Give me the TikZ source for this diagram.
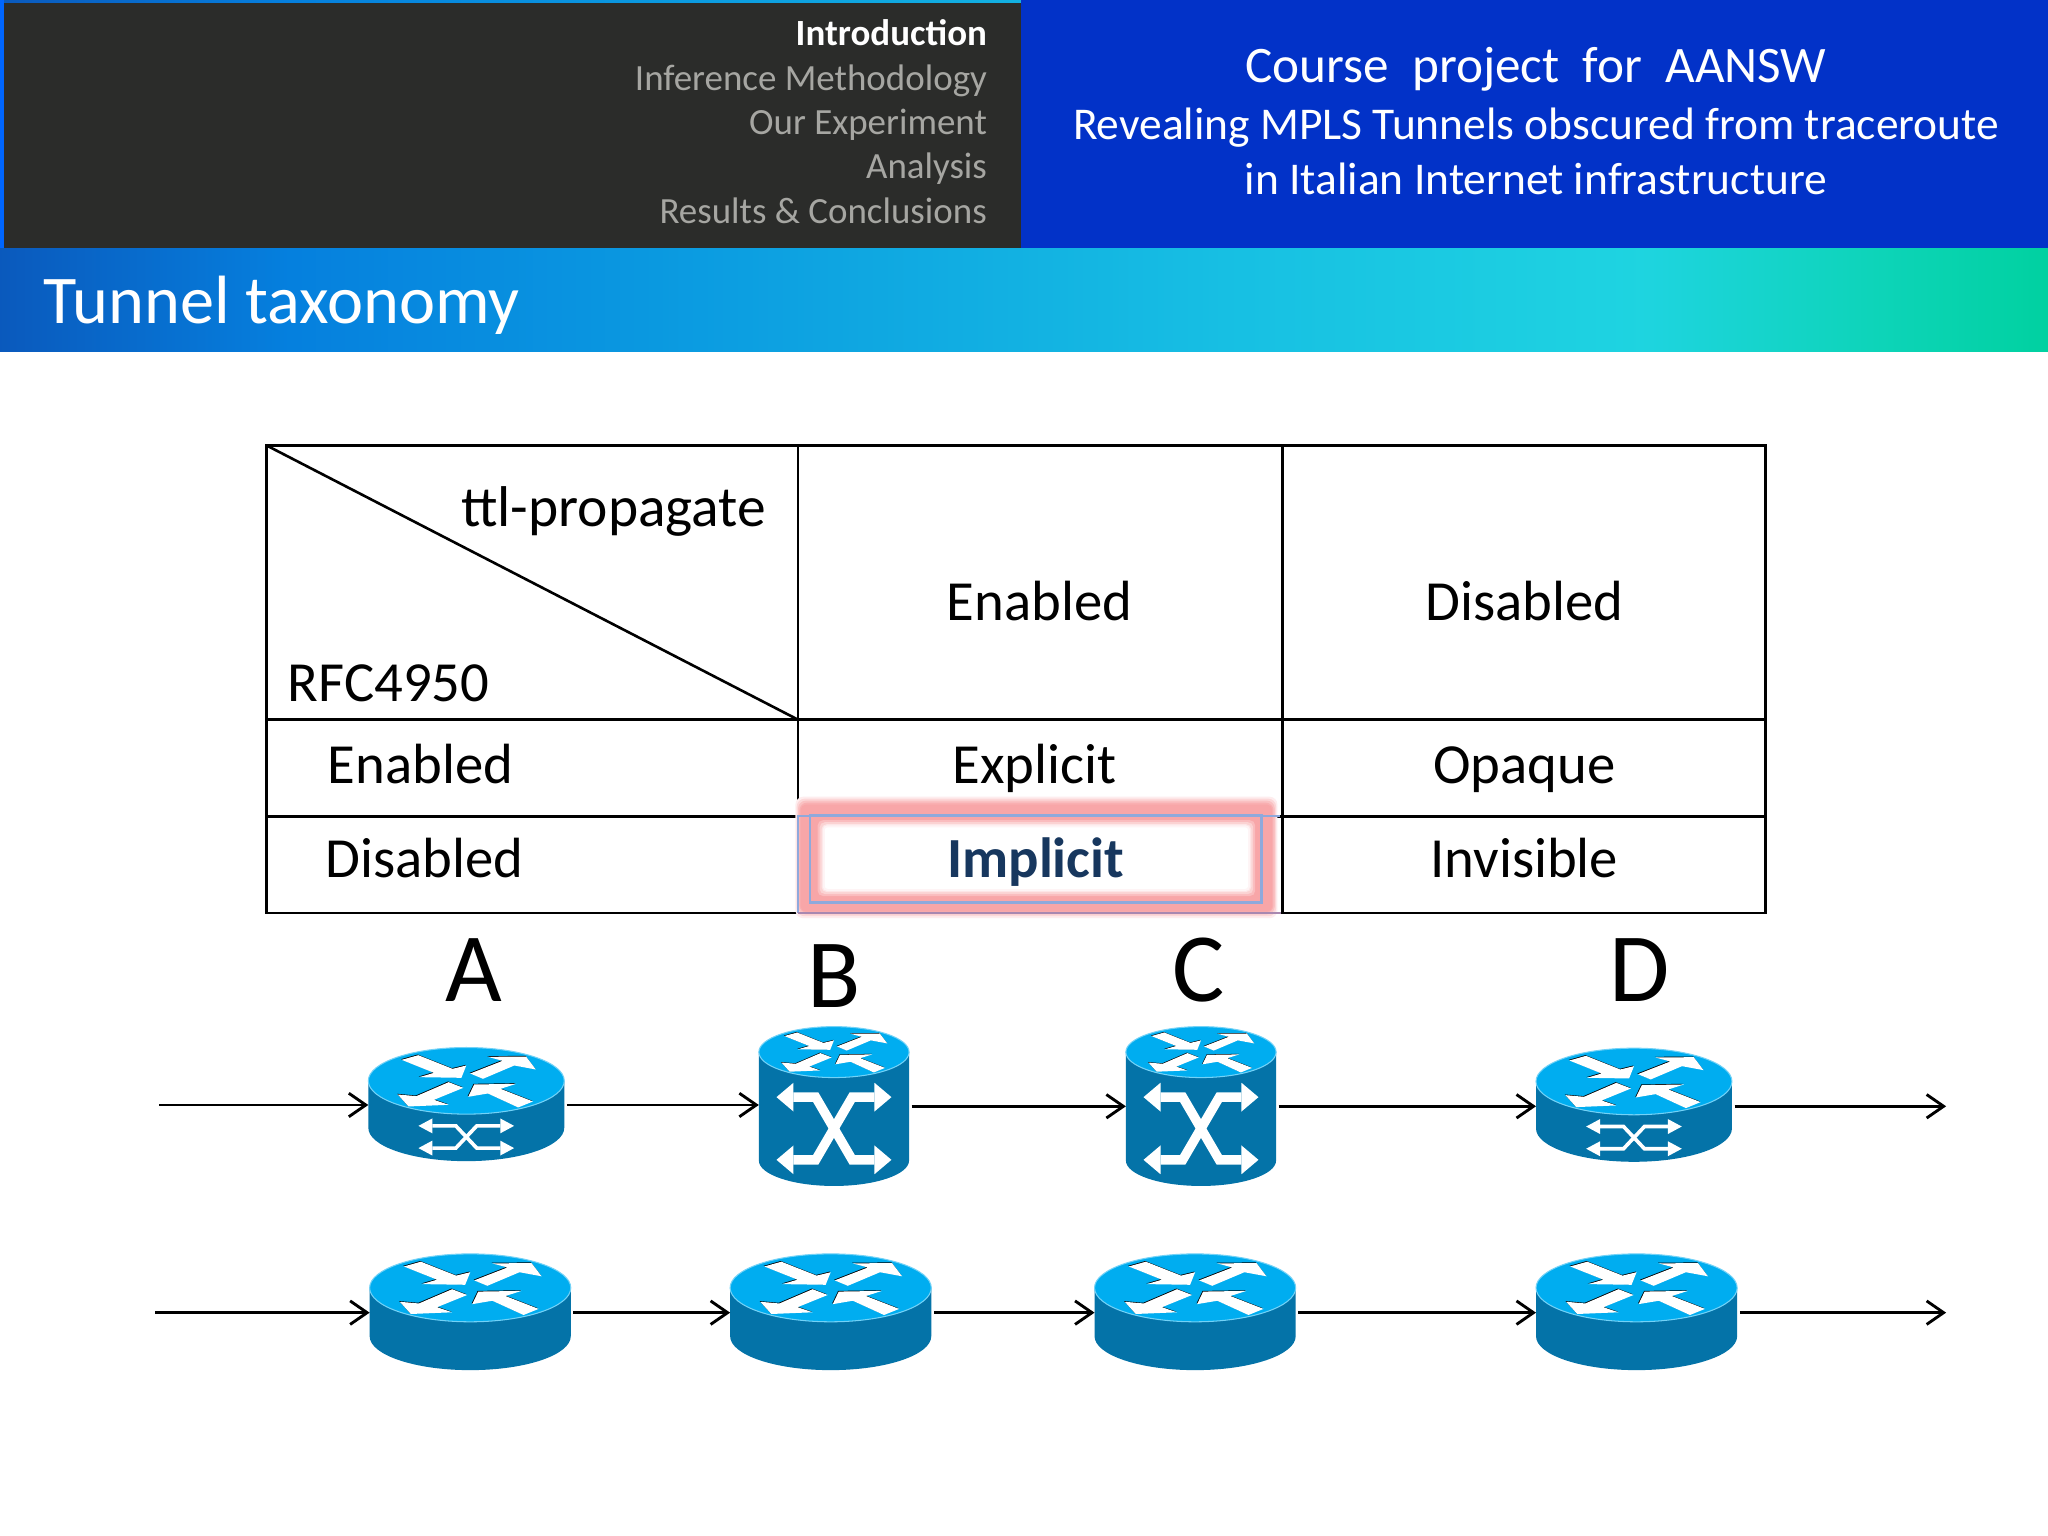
\documentclass[tikz,border=0pt]{standalone}
\usepackage{fontspec}
\setmainfont{Carlito}
\usetikzlibrary{arrows.meta}
\definecolor{rbody}{HTML}{0473A8}
\definecolor{rtop}{HTML}{00ADF0}
\definecolor{menugrey}{HTML}{A6A6A2}
\definecolor{darkbox}{HTML}{2B2C2A}
\definecolor{bluebox}{HTML}{0232C8}
\definecolor{implicitc}{HTML}{17375E}
\definecolor{glow}{HTML}{F8A6A8}
\definecolor{frameblue}{HTML}{8FA9DC}
\definecolor{framepurple}{HTML}{A888B0}
\pgfdeclarehorizontalshading{barshade}{100bp}{
 rgb(0bp)=(0.04,0.35,0.74);
 rgb(25bp)=(0.04,0.35,0.74);
 rgb(32bp)=(0.02,0.50,0.87);
 rgb(41bp)=(0.04,0.60,0.88);
 rgb(55bp)=(0.09,0.75,0.89);
 rgb(65bp)=(0.12,0.83,0.88);
 rgb(71bp)=(0.05,0.83,0.72);
 rgb(75bp)=(0.00,0.82,0.63);
 rgb(100bp)=(0.00,0.82,0.63)}
\tikzset{
 routernode/.style={inner sep=0pt,outer sep=0pt,rectangle},
 conn/.style={line width=1.1pt,shorten <=1pt,-{Straight Barb[length=6.5pt,width=9pt,line width=1.1pt]}},
 cellline/.style={line width=1.1pt,black},
 tabtext/.style={anchor=base,inner sep=0pt,font=\fontsize{21.7}{24}\selectfont,text=black},
 menutext/.style={anchor=base east,inner sep=0pt,font=\fontsize{14.15}{17}\selectfont,text=menugrey},
 titletext/.style={anchor=base,inner sep=0pt,font=\fontsize{17.4}{21}\selectfont,text=white},
 bigletter/.style={anchor=base,inner sep=0pt,font=\fontsize{37.5}{40}\selectfont,text=black},
}
\newcommand{\facearrows}[1]{%
 \fill[#1] (-0.66,0.63)--(-0.49,0.77)--(-0.14,0.36)--(0,0.46)--(-0.05,0.09)--(-0.48,0.11)--(-0.33,0.24)--cycle;
 \fill[#1] (0.04,0.22)--(0.37,0.6)--(0.22,0.72)--(0.61,0.73)--(0.71,0.34)--(0.49,0.46)--(0.17,0.06)--cycle;
 \fill[#1] (-0.70,-0.41)--(-0.51,-0.46)--(-0.18,-0.04)--(-0.03,-0.21)--(-0.33,-0.57)--(-0.18,-0.72)--(-0.59,-0.77)--cycle;
 \fill[#1] (0.02,-0.48)--(0.08,-0.11)--(0.51,-0.09)--(0.35,-0.24)--(0.68,-0.62)--(0.53,-0.80)--(0.22,-0.38)--cycle;
}
% name, cx, cy, w, h, ry
\newcommand{\rtrbase}[6]{%
 \node[routernode,minimum width=#4*0.5pt,minimum height=#5*0.5pt] (#1) at (#2,#3) {};
 \pgfmathsetmacro{\halfw}{#4/2}
 \pgfmathsetmacro{\halfh}{#5/2}
 \pgfmathsetmacro{\inner}{#5/2-#6}
 \fill[rbody] (#2-\halfw,#3-\inner) -- (#2-\halfw,#3+\inner) arc[start angle=180,end angle=0,x radius=\halfw,y radius=#6] -- (#2+\halfw,#3-\inner) -- cycle;
 \draw[rtop!55!white,line width=0.4pt,fill=rtop] (#2,#3-\inner) ellipse[x radius=\halfw,y radius=#6];
 \begin{scope}[shift={(#2,#3-\inner)},xscale=\halfw,yscale=-#6]
  \begin{scope}[shift={(-0.006,0.02)}]\facearrows{black}\end{scope}
  \facearrows{white}
 \end{scope}
}
\newcommand{\crossglyph}[8]{% cx, cy, tip, base, inner, row, headhalf, width
 \begin{scope}[shift={(#1,#2)}]
 \foreach \sx in {-1,1}{\foreach \sy in {-1,1}{
  \fill[white] (\sx*#3,\sy*#6) -- (\sx*#4,\sy*#6+#7) -- (\sx*#4,\sy*#6-#7) -- cycle;
 }}
 \draw[white,line width=#8,line join=miter] (-#4,-#6) -- (-#5,-#6) -- (#5,#6) -- (#4,#6);
 \draw[white,line width=#8,line join=miter] (-#4,#6) -- (-#5,#6) -- (#5,-#6) -- (#4,-#6);
 \end{scope}
}
\begin{document}
\begin{tikzpicture}[x=0.5pt,y=-0.5pt]
\useasboundingbox (0,0) rectangle (1568,1176);
\fill[white] (0,0) rectangle (1568,1176);
% header
\shade[shading=barshade] (0,190) rectangle (1568,269);
\shade[shading=barshade] (0,0) rectangle (1568,4);
\fill[black!0!blue!60!cyan] (0,0) rectangle (3,190);
\fill[darkbox] (3,2) rectangle (782,190);
\fill[bluebox] (782,0) rectangle (1568,190);
\node[menutext,text=white,font=\fontsize{14.15}{17}\selectfont\bfseries] (m1) at (756,35) {Introduction};
\node[menutext] (m2) at (756,69) {Inference Methodology};
\node[menutext] (m3) at (756,103) {Our Experiment};
\node[menutext] (m4) at (756,137) {Analysis};
\node[menutext] (m5) at (756,171) {Results \& Conclusions};
\node[titletext,font=\fontsize{19.6}{23}\selectfont] (t1) at (1176,63) {Course\ \ project\ \ for\ \ AANSW};
\node[titletext] (t2) at (1176,107) {Revealing MPLS Tunnels obscured from traceroute};
\node[titletext] (t3) at (1176,149) {in Italian Internet infrastructure};
\node[anchor=base west,inner sep=0pt,text=white,font=\fontsize{26.15}{30}\selectfont] (ttl) at (33,248) {Tunnel taxonomy};
% table
\draw[cellline] (204,341) rectangle (1352,699);
\draw[cellline] (204,551) -- (1352,551);
\draw[cellline] (204,625) -- (1352,625);
\draw[cellline] (611,341) -- (611,699);
\draw[cellline] (982,341) -- (982,699);
\draw[line width=1pt] (204,341) -- (611,551);
% highlight: outer glow fading out
\fill[white] (610,626) rectangle (981,698);
\fill[glow!20!white,rounded corners=3pt] (609,610) rectangle (978,703);
\fill[glow!45!white,rounded corners=3pt] (610,611.5) rectangle (977,701.5);
\fill[glow!70!white,rounded corners=3pt] (611,613) rectangle (976,700);
\fill[glow!90!white,rounded corners=3pt] (612,614.5) rectangle (975,699);
\fill[glow,rounded corners=2pt] (613,616) rectangle (974,698);
% inner edge fading to white
\fill[glow!75!white,rounded corners=2pt] (626,628) rectangle (961,686);
\fill[glow!50!white,rounded corners=2pt] (627.5,629.5) rectangle (959.5,684.5);
\fill[glow!28!white,rounded corners=2pt] (629,631) rectangle (958,683);
\fill[glow!12!white,rounded corners=1.5pt] (630,632) rectangle (957,682);
\fill[white,rounded corners=1pt] (631.5,633.5) rectangle (955.5,680.5);
% frames
\draw[frameblue,line width=0.8pt] (611,699) -- (611,625) -- (980,625);
\draw[framepurple,line width=0.9pt] (611,699) -- (981,699);
\draw[frameblue,line width=1pt] (620,624) rectangle (966,691);
\draw[cellline] (982,625) -- (982,699);
\node[tabtext,anchor=base east,font=\fontsize{22}{24}\selectfont] (c0) at (587,403) {ttl-propagate};
\node[tabtext,anchor=base west] (c1) at (220,537) {RFC4950};
\node[tabtext] (c2) at (796,475) {Enabled};
\node[tabtext] (c3) at (1167,475) {Disabled};
\node[tabtext] (c4) at (322,600) {Enabled};
\node[tabtext] (c5) at (792,600) {Explicit};
\node[tabtext] (c6) at (1167,600) {Opaque};
\node[tabtext] (c7) at (325,672) {Disabled};
\node[tabtext,text=implicitc,font=\fontsize{21.7}{24}\selectfont\bfseries] (c8) at (793,672) {Implicit};
\node[tabtext] (c9) at (1167,672) {Invisible};
\node[bigletter] (la) at (363,767) {A};
\node[bigletter] (lb) at (639,771) {B};
\node[bigletter] (lc) at (918,767) {C};
\node[bigletter] (ld) at (1255,767) {D};
% routers row 1
\rtrbase{ra}{357}{845.5}{150}{87}{25.5}
\crossglyph{357}{870.5}{36.6}{26}{8}{8.5}{5.7}{1.4pt}
\rtrbase{rb}{638.5}{847}{115}{122}{19.5}
\crossglyph{638.5}{864}{44}{31}{14}{24}{11}{3.6pt}
\rtrbase{rc}{919.5}{847}{115}{122}{19.5}
\crossglyph{919.5}{864}{44}{31}{14}{24}{11}{3.6pt}
\rtrbase{rd}{1251}{846}{150}{87}{25.5}
\crossglyph{1251}{871}{36.6}{26}{8}{8.5}{5.7}{1.4pt}
% routers row 2
\rtrbase{re}{360}{1004.5}{154}{89}{26}
\rtrbase{rf}{636}{1004.5}{154}{89}{26}
\rtrbase{rg}{915}{1004.5}{154}{89}{26}
\rtrbase{rh}{1253}{1004.5}{154}{89}{26}
% connectors
\coordinate (in1) at (120,846);
\coordinate (out1) at (1490,847);
\coordinate (in2) at (117,1005);
\coordinate (out2) at (1490,1005);
\draw[conn] (in1) -- (ra.west |- in1);
\draw[conn] (ra.east |- in1) -- (rb.west |- in1);
\draw[conn] (rb.east) -- (rc.west);
\draw[conn] (rc.east) -- (rd.west |- rc.east);
\draw[conn] (rd.east |- out1) -- (out1);
\draw[conn] (in2) -- (re.west |- in2);
\draw[conn] (re.east |- in2) -- (rf.west |- in2);
\draw[conn] (rf.east |- in2) -- (rg.west |- in2);
\draw[conn] (rg.east |- in2) -- (rh.west |- in2);
\draw[conn] (rh.east |- in2) -- (out2);
\end{tikzpicture}
\end{document}
